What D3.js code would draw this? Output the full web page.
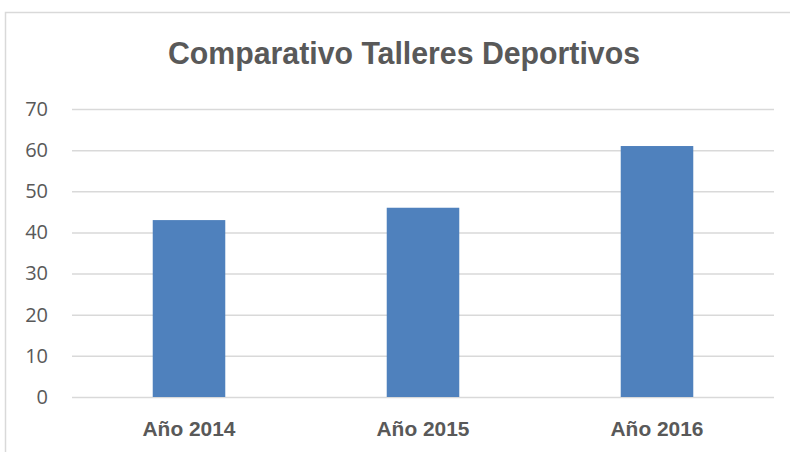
<!DOCTYPE html>
<html>
<head>
<meta charset="utf-8">
<script src="https://cdn.jsdelivr.net/npm/d3@7"></script>
<style>
  html, body { margin: 0; padding: 0; background: #fff; }
  svg { display: block; }
</style>
</head>
<body>
<svg id="chart" width="790" height="452"></svg>
<script>
// Workshop counts per year
const categories = ["Año 2014", "Año 2015", "Año 2016"];
const values = [43, 46, 61];
const yTicks = [0, 10, 20, 30, 40, 50, 60, 70];
const chartTitle = "Comparativo Talleres Deportivos";

const svg = d3.select("#chart");
const plot = { left: 72, right: 774, top: 109, bottom: 397 };

// chart frame
svg.append("rect")
  .attr("x", 5.5).attr("y", 12.5)
  .attr("width", 820).attr("height", 500)
  .attr("fill", "#fff")
  .attr("stroke", "#d9d9d9").attr("stroke-width", 1.5);

const x = d3.scaleBand()
  .domain(categories)
  .range([plot.left, plot.right])
  .paddingInner(0.69).paddingOuter(0.345);

const y = d3.scaleLinear()
  .domain([0, 70])
  .range([plot.bottom, plot.top]);

// gridlines + y labels
const yAxis = d3.axisLeft(y)
  .tickValues(yTicks)
  .tickSize(-(plot.right - plot.left))
  .tickPadding(24)
  .tickFormat(d3.format("d"));

const gy = svg.append("g")
  .attr("transform", `translate(${plot.left},0)`)
  .call(yAxis);
gy.select(".domain").remove();
gy.selectAll(".tick line")
  .attr("stroke", "#d9d9d9").attr("stroke-width", 1.5);
gy.selectAll(".tick text")
  .attr("fill", "#595959")
  .style("font-family", "'Open Sans', 'Noto Sans', sans-serif")
  .style("font-size", "20px");

// bars
svg.append("g").selectAll("rect")
  .data(values)
  .join("rect")
  .attr("x", (d, i) => x(categories[i]))
  .attr("y", d => y(d))
  .attr("width", x.bandwidth())
  .attr("height", d => y(0) - y(d))
  .attr("fill", "#4f81bd");

// x labels
const xAxis = d3.axisBottom(x).tickSize(0);
const gx = svg.append("g")
  .attr("transform", `translate(0,${plot.bottom})`)
  .call(xAxis);
gx.select(".domain").remove();
gx.selectAll(".tick text")
  .attr("y", 39).attr("dy", 0)
  .attr("fill", "#595959")
  .attr("textLength", 93)
  .attr("lengthAdjust", "spacingAndGlyphs")
  .style("font-family", "'Liberation Sans', Arial, sans-serif")
  .style("font-weight", "bold")
  .style("font-size", "21px");

// title
svg.append("text")
  .attr("x", 404).attr("y", 64)
  .attr("text-anchor", "middle")
  .attr("textLength", 472)
  .attr("lengthAdjust", "spacingAndGlyphs")
  .attr("fill", "#595959")
  .style("font-family", "'Liberation Sans', Arial, sans-serif")
  .style("font-weight", "bold")
  .style("font-size", "31px")
  .text(chartTitle);
</script>
</body>
</html>
